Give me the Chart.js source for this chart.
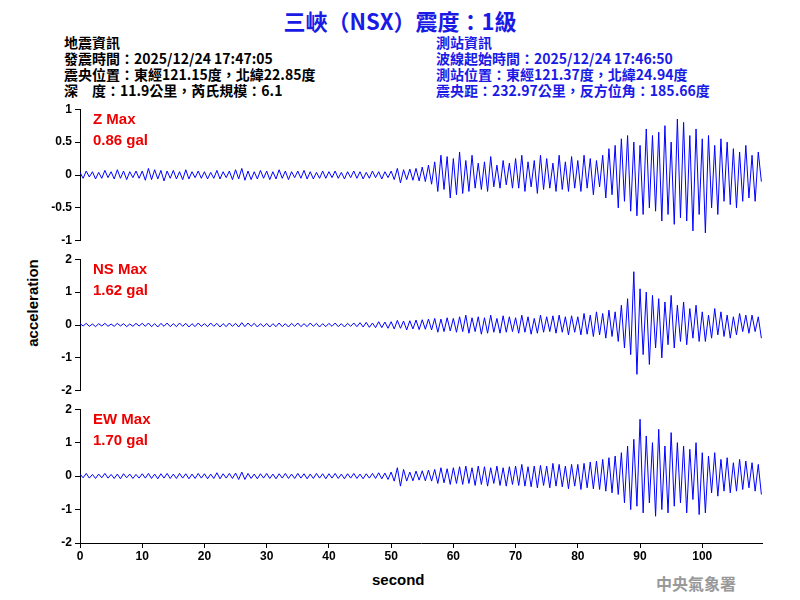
<!DOCTYPE html>
<html lang="zh-Hant">
<head>
<meta charset="UTF-8">
<title>三峽 (NSX) 震度：1級</title>
<script src="https://cdn.jsdelivr.net/npm/chart.js"></script>
<style>
  body { margin:0; width:800px; height:600px; position:relative; background:#fff; font-family:"Liberation Sans", Arial, sans-serif; overflow:hidden; }
  .abs { position:absolute; white-space:pre; }
  #title { left:0; width:800px; top:4px; text-align:center; color:#1a1ae6; font:bold 22px "Noto Sans CJK TC","Liberation Sans",sans-serif; }
  .info { font:bold 14px "Noto Sans CJK TC","Liberation Sans",sans-serif; line-height:16px; }
  .lab { color:#e00; font:bold 15px "Liberation Sans",Arial,sans-serif; line-height:21px; }
  canvas { position:absolute; left:0; }
</style>
</head>
<body>
<div id="title" class="abs">三峽（NSX）震度：1級</div>
<div class="abs info" style="left:64px;top:34px;color:#000">地震資訊
發震時間：2025/12/24 17:47:05
震央位置：東經121.15度，北緯22.85度
深　度：11.9公里，芮氏規模：6.1</div>
<div class="abs info" style="left:436px;top:34px;color:#1a1ae6">測站資訊
波線起始時間：2025/12/24 17:46:50
測站位置：東經121.37度，北緯24.94度
震央距：232.97公里，反方位角：185.66度</div>
<div class="abs" style="left:32px;top:303px;transform:translate(-50%,-50%) rotate(-90deg);font:bold 15px 'Liberation Sans',Arial;">acceleration</div>
<div class="abs" style="left:372px;top:571px;font:bold 15px 'Liberation Sans',Arial;">second</div>
<div class="abs" style="left:656px;top:571px;color:#999;font:bold 16px 'Noto Sans CJK TC',serif;">中央氣象署</div>

<canvas id="cZ" width="800" height="152" style="top:99px"></canvas>
<canvas id="cNS" width="800" height="152" style="top:249px"></canvas>
<canvas id="cEW" width="800" height="170" style="top:399px"></canvas>

<div class="abs lab" style="left:93px;top:108px">Z Max
0.86 gal</div>
<div class="abs lab" style="left:93px;top:258px">NS Max
1.62 gal</div>
<div class="abs lab" style="left:93px;top:408px">EW Max
1.70 gal</div>

<script>
// 取樣間隔 0.5 秒
const dt = 0.5;

const zData = [
 0.04,-0.05,0.06,-0.03,0.05,-0.06,0.04,-0.05,0.07,-0.04,0.05,-0.06,0.08,-0.05,0.06,-0.07,0.05,-0.04,0.06,-0.05,
 0.06,-0.08,0.1,-0.07,0.08,-0.06,0.07,-0.09,0.06,-0.05,0.07,-0.06,0.05,-0.07,0.08,-0.06,0.05,-0.04,0.06,-0.05,
 0.05,-0.06,0.04,-0.05,0.07,-0.06,0.05,-0.04,0.06,-0.07,0.08,-0.06,0.1,-0.08,0.06,-0.07,0.05,-0.06,0.07,-0.05,
 0.06,-0.07,0.05,-0.06,0.08,-0.05,0.06,-0.07,0.05,-0.04,0.06,-0.05,0.07,-0.06,0.05,-0.06,0.04,-0.05,0.06,-0.05,
 0.05,-0.04,0.06,-0.05,0.04,-0.06,0.05,-0.04,0.06,-0.05,0.05,-0.06,0.04,-0.05,0.06,-0.04,0.05,-0.06,0.05,-0.04,
 0.06,-0.07,0.1,-0.12,0.08,-0.07,0.09,-0.08,0.1,-0.09,0.12,-0.1,0.15,-0.14,0.2,-0.25,0.3,-0.22,0.28,-0.35,
 0.25,-0.3,0.35,-0.28,0.22,-0.25,0.3,-0.2,0.18,-0.22,0.2,-0.25,0.28,-0.18,0.15,-0.2,0.22,-0.15,0.18,-0.2,
 0.25,-0.2,0.3,-0.25,0.2,-0.18,0.22,-0.28,0.3,-0.22,0.25,-0.2,0.18,-0.25,0.3,-0.22,0.2,-0.25,0.28,-0.2,
 0.22,-0.25,0.3,-0.2,0.25,-0.3,0.22,-0.18,0.3,-0.35,0.4,-0.3,0.45,-0.5,0.55,-0.4,0.6,-0.55,0.5,-0.62,
 0.45,-0.6,0.7,-0.5,0.6,-0.55,0.65,-0.7,0.75,-0.6,0.5,-0.75,0.85,-0.65,0.8,-0.7,0.6,-0.85,0.7,-0.6,
 0.55,-0.88,0.6,-0.5,0.45,-0.6,0.55,-0.4,0.5,-0.45,0.4,-0.5,0.35,-0.4,0.45,-0.35,0.3,-0.4,0.35,-0.1
];
const nsData = [
 0.04,-0.03,0.05,-0.04,0.03,-0.05,0.04,-0.03,0.05,-0.04,0.03,-0.04,0.05,-0.03,0.04,-0.05,0.03,-0.04,0.05,-0.03,
 0.05,-0.04,0.06,-0.05,0.04,-0.06,0.05,-0.04,0.06,-0.05,0.04,-0.05,0.06,-0.04,0.05,-0.06,0.04,-0.05,0.06,-0.04,
 0.04,-0.05,0.06,-0.04,0.05,-0.06,0.04,-0.05,0.06,-0.04,0.05,-0.06,0.07,-0.05,0.06,-0.04,0.05,-0.06,0.04,-0.05,
 0.05,-0.06,0.04,-0.05,0.06,-0.05,0.04,-0.06,0.05,-0.04,0.06,-0.05,0.04,-0.05,0.06,-0.04,0.05,-0.06,0.04,-0.05,
 0.05,-0.04,0.06,-0.05,0.04,-0.06,0.05,-0.04,0.06,-0.05,0.07,-0.06,0.08,-0.07,0.06,-0.08,0.1,-0.08,0.09,-0.1,
 0.1,-0.12,0.14,-0.1,0.12,-0.15,0.13,-0.12,0.15,-0.14,0.16,-0.13,0.18,-0.15,0.2,-0.22,0.18,-0.2,0.22,-0.18,
 0.2,-0.22,0.25,-0.2,0.3,-0.25,0.22,-0.2,0.25,-0.28,0.22,-0.25,0.3,-0.22,0.2,-0.25,0.28,-0.22,0.25,-0.2,
 0.22,-0.25,0.3,-0.22,0.25,-0.28,0.2,-0.25,0.3,-0.22,0.25,-0.2,0.28,-0.25,0.3,-0.22,0.25,-0.3,0.28,-0.22,
 0.25,-0.3,0.35,-0.28,0.3,-0.35,0.4,-0.3,0.35,-0.4,0.45,-0.35,0.4,-0.5,0.6,-0.7,0.8,-0.9,1.62,-1.5,
 1.1,-0.9,1.0,-1.2,0.9,-0.7,0.8,-1.0,0.7,-0.6,0.9,-0.7,0.6,-0.5,0.7,-0.6,0.5,-0.4,0.6,-0.5,
 0.4,-0.5,0.3,-0.4,0.5,-0.3,0.4,-0.35,0.3,-0.4,0.25,-0.3,0.35,-0.2,0.3,-0.25,0.3,-0.2,0.25,-0.4
];
const ewData = [
 0.06,-0.05,0.08,-0.06,0.05,-0.07,0.06,-0.05,0.08,-0.06,0.05,-0.07,0.06,-0.08,0.07,-0.05,0.06,-0.07,0.05,-0.06,
 0.07,-0.06,0.08,-0.07,0.06,-0.08,0.07,-0.06,0.08,-0.07,0.06,-0.07,0.08,-0.06,0.07,-0.08,0.06,-0.07,0.08,-0.06,
 0.07,-0.08,0.06,-0.07,0.1,-0.08,0.07,-0.06,0.08,-0.07,0.09,-0.1,0.12,-0.1,0.08,-0.07,0.06,-0.08,0.07,-0.06,
 0.08,-0.07,0.06,-0.08,0.07,-0.06,0.08,-0.07,0.06,-0.07,0.08,-0.06,0.07,-0.08,0.06,-0.07,0.08,-0.06,0.07,-0.08,
 0.07,-0.06,0.08,-0.07,0.06,-0.08,0.07,-0.06,0.08,-0.07,0.06,-0.08,0.07,-0.06,0.08,-0.07,0.1,-0.08,0.09,-0.1,
 0.12,-0.15,0.25,-0.3,0.2,-0.15,0.12,-0.14,0.15,-0.12,0.16,-0.14,0.18,-0.15,0.2,-0.22,0.25,-0.2,0.22,-0.25,
 0.25,-0.22,0.28,-0.25,0.3,-0.22,0.25,-0.28,0.3,-0.25,0.28,-0.3,0.25,-0.22,0.3,-0.28,0.25,-0.3,0.28,-0.25,
 0.3,-0.28,0.35,-0.3,0.28,-0.32,0.3,-0.35,0.32,-0.28,0.3,-0.35,0.38,-0.3,0.35,-0.32,0.3,-0.38,0.35,-0.3,
 0.35,-0.4,0.38,-0.35,0.42,-0.38,0.45,-0.4,0.5,-0.45,0.55,-0.5,0.6,-0.55,0.7,-0.8,0.9,-1.0,1.1,-0.9,
 1.7,-1.1,1.2,-0.8,1.0,-1.2,1.4,-1.0,0.9,-1.1,1.3,-0.9,1.0,-0.8,0.9,-1.1,0.8,-0.7,1.0,-1.15,
 0.7,-1.1,0.6,-0.5,0.7,-0.6,0.5,-0.45,0.55,-0.5,0.4,-0.45,0.5,-0.4,0.45,-0.35,0.4,-0.45,0.35,-0.55
];
const xTicks = [0,10,20,30,40,50,60,70,80,90,100];

const tickFont = { family: "Liberation Sans", size: 12, weight: "bold" };

function makeChart(id, values, yMax, yStep, showX) {
    const pts = values.map((v, i) => ({ x: i * dt, y: v }));
    return new Chart(document.getElementById(id), {
        type: "line",
        data: { datasets: [{ data: pts, borderColor: "#0000ff", borderWidth: 1, pointRadius: 0, tension: 0 }] },
        options: {
            responsive: false, animation: false, devicePixelRatio: 1,
            layout: { padding: { top: 8, bottom: showX ? 0 : 8, left: 0, right: 38 } },
            plugins: { legend: { display: false }, tooltip: { enabled: false } },
            scales: {
                x: {
                    type: "linear", min: 0, max: 109.6, display: showX,
                    afterFit: s => { s.height = showX ? 26 : 0; },
                    afterBuildTicks: s => { s.ticks = xTicks.map(v => ({ value: v })); },
                    grid: { drawOnChartArea: false, tickLength: 5, color: "#000" },
                    border: { color: "#000" },
                    ticks: { color: "#000", font: tickFont, padding: 1, maxRotation: 0 }
                },
                y: {
                    min: -yMax, max: yMax,
                    afterFit: s => { s.width = 80; },
                    grid: { drawOnChartArea: false, tickLength: 5, color: "#000" },
                    border: { color: "#000" },
                    ticks: { stepSize: yStep, color: "#000", font: tickFont, padding: 3,
                             callback: v => String(v) }
                }
            }
        }
    });
}

makeChart("cZ", zData, 1, 0.5, false);
makeChart("cNS", nsData, 2, 1, false);
makeChart("cEW", ewData, 2, 1, true);
</script>
</body>
</html>
